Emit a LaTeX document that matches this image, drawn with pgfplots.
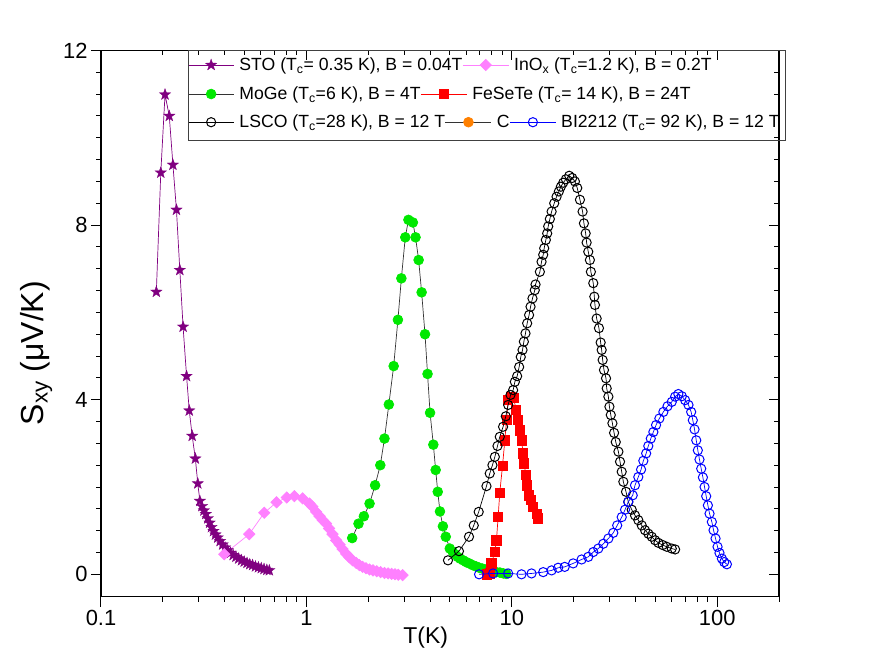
\documentclass[border=0pt]{standalone}
\usepackage{fontspec}
\setmainfont{Liberation Sans}
\usepackage{pgfplots}
\pgfplotsset{compat=1.18}

\definecolor{stoc}{RGB}{128,0,128}
\definecolor{inoxc}{RGB}{255,128,255}
\definecolor{mogec}{RGB}{0,232,0}
\definecolor{fesec}{RGB}{255,0,0}
\definecolor{cc}{RGB}{255,128,0}
\definecolor{bic}{RGB}{0,0,255}

\pgfdeclareplotmark{fstar}{%
  \pgfpathmoveto{\pgfpointpolar{90}{\pgfplotmarksize}}%
  \pgfpathlineto{\pgfpointpolar{126}{0.40\pgfplotmarksize}}%
  \pgfpathlineto{\pgfpointpolar{162}{\pgfplotmarksize}}%
  \pgfpathlineto{\pgfpointpolar{198}{0.40\pgfplotmarksize}}%
  \pgfpathlineto{\pgfpointpolar{234}{\pgfplotmarksize}}%
  \pgfpathlineto{\pgfpointpolar{270}{0.40\pgfplotmarksize}}%
  \pgfpathlineto{\pgfpointpolar{306}{\pgfplotmarksize}}%
  \pgfpathlineto{\pgfpointpolar{342}{0.40\pgfplotmarksize}}%
  \pgfpathlineto{\pgfpointpolar{18}{\pgfplotmarksize}}%
  \pgfpathlineto{\pgfpointpolar{54}{0.40\pgfplotmarksize}}%
  \pgfpathclose
  \pgfusepathqfillstroke
}

\begin{document}
\begin{tikzpicture}
\useasboundingbox (0,0) rectangle (872bp,654bp);

% axis 1: frame, ticks, STO, InOx
\begin{axis}[scale only axis, width=678bp, height=546.2bp,
  at={(101bp,57.3bp)}, anchor=south west,
  xmode=log, xmin=0.1, xmax=200, ymin=-0.513, ymax=12,
  major tick length=10bp, minor tick length=5bp,
  xtick={0.1,1,10,100},
  minor xtick={0.2,0.3,0.4,0.5,0.6,0.7,0.8,0.9,2,3,4,5,6,7,8,9,20,30,40,50,60,70,80,90,200},
  ytick={0,4,8,12}, minor y tick num=7,
  tick style={black, line width=1bp},
  axis line style={line width=1.2bp},
  tick align=outside, xtick pos=left, ytick pos=left,
  xticklabels={0.1,1,10,100}, yticklabels={0,4,8,12},
  /pgf/number format/assume math mode=true,
  tick label style={font=\fontsize{22}{26}\selectfont},
  xlabel={T(K)}, ylabel={S\textsubscript{xy} (μV/K)},
  xlabel style={at={(axis description cs:0.479,-0.0848)}, anchor=base, inner sep=0pt, font=\fontsize{23}{27}\selectfont},
  ylabel style={at={(axis description cs:-0.0841,0.446)}, anchor=base, inner sep=0pt, font=\fontsize{32}{36}\selectfont},
  legend columns=-1,
  legend style={draw=none, fill=none, inner sep=0pt, outer sep=0pt,
      at={(axis description cs:0.128,0.9734)}, anchor=west,
      font=\fontsize{17.7}{20}\selectfont,
      nodes={inner xsep=0pt, inner ysep=1pt},
      /tikz/every odd column/.append style={column sep=5bp}},
  legend image code/.code={%
      \draw[mark repeat=2,mark phase=2,#1] plot coordinates {(0bp,0bp) (23bp,0bp) (46bp,0bp)};},
]
\addplot[color=stoc, line width=0.7bp, mark=fstar, mark size=6bp, mark options={fill=stoc, draw=stoc, line width=0.3bp}]
coordinates {(0.186,6.47) (0.1955,9.20) (0.205,10.99) (0.215,10.50) (0.224,9.38) (0.233,8.35) (0.242,6.97) (0.251,5.67) (0.261,4.54) (0.269,3.75) (0.278,3.17) (0.288,2.65) (0.296,2.08) (0.303,1.68) (0.310,1.56) (0.317,1.46) (0.324,1.38) (0.331,1.28) (0.338,1.18) (0.345,1.08) (0.353,0.99) (0.361,0.91) (0.370,0.84) (0.380,0.76) (0.391,0.68) (0.402,0.61) (0.414,0.55) (0.427,0.49) (0.440,0.44) (0.454,0.40) (0.468,0.36) (0.483,0.32) (0.498,0.29) (0.514,0.26) (0.530,0.23) (0.547,0.21) (0.565,0.18) (0.584,0.16) (0.603,0.14) (0.622,0.12) (0.642,0.10) (0.66,0.09)};
\addlegendentry{STO (T\textsubscript{c}= 0.35 K), B = 0.04T}
\addplot[color=inoxc, line width=0.7bp, mark=square*, mark size=4bp, mark options={rotate=45, fill=inoxc, draw=inoxc}]
coordinates {(0.398,0.46) (0.527,0.92) (0.624,1.41) (0.716,1.65) (0.802,1.76) (0.874,1.79) (0.959,1.74) (1.035,1.62) (1.07,1.55) (1.115,1.43) (1.16,1.33) (1.20,1.24) (1.247,1.16) (1.29,1.05) (1.34,0.92) (1.396,0.78) (1.45,0.68) (1.50,0.58) (1.562,0.47) (1.62,0.39) (1.68,0.32) (1.75,0.26) (1.81,0.21) (1.88,0.17) (1.95,0.14) (2.03,0.11) (2.11,0.09) (2.20,0.07) (2.30,0.05) (2.40,0.03) (2.50,0.02) (2.60,0.01) (2.70,0.00) (2.80,-0.01) (2.94,-0.02)};
\addlegendentry{InO\textsubscript{x} (T\textsubscript{c}=1.2 K), B = 0.2T}
\end{axis}

% axis 2: MoGe, FeSeTe
\begin{axis}[scale only axis, width=678bp, height=546.2bp,
  at={(101bp,57.3bp)}, anchor=south west,
  xmode=log, xmin=0.1, xmax=200, ymin=-0.513, ymax=12, hide axis,
  legend columns=-1,
  legend style={draw=none, fill=none, inner sep=0pt, outer sep=0pt,
      at={(axis description cs:0.128,0.9203)}, anchor=west,
      font=\fontsize{17.7}{20}\selectfont,
      nodes={inner xsep=0pt, inner ysep=1pt},
      /tikz/every odd column/.append style={column sep=5bp}},
  legend image code/.code={%
      \draw[mark repeat=2,mark phase=2,#1] plot coordinates {(0bp,0bp) (23bp,0bp) (46bp,0bp)};},
]
\addplot[color=black!80, line width=0.7bp, mark=*, mark size=4.9bp, mark options={fill=mogec, draw=mogec}]
coordinates {(1.671,0.83) (1.794,1.16) (1.905,1.33) (2.03,1.62) (2.16,2.04) (2.29,2.50) (2.40,3.11) (2.52,3.89) (2.66,4.77) (2.79,5.83) (2.90,6.78) (3.03,7.72) (3.14,8.12) (3.30,8.06) (3.40,7.72) (3.52,7.20) (3.64,6.46) (3.78,5.50) (3.89,4.59) (4.00,3.70) (4.15,2.97) (4.26,2.39) (4.36,1.89) (4.47,1.44) (4.62,1.10) (4.77,0.86) (4.99,0.59) (5.15,0.52) (5.3,0.46) (5.45,0.40) (5.6,0.36) (5.8,0.32) (6.0,0.28) (6.2,0.25) (6.45,0.21) (6.7,0.18) (6.95,0.15) (7.2,0.13) (7.5,0.11) (7.8,0.09) (8.1,0.07) (8.4,0.05) (8.75,0.04) (9.1,0.02) (9.4,0.01)};
\addlegendentry{MoGe (T\textsubscript{c}=6 K), B = 4T}
\addplot[color=fesec, line width=0.7bp, mark=square*, mark size=4.6bp, mark options={fill=fesec, draw=fesec}]
coordinates {(7.53,0.00) (7.81,0.02) (7.96,0.25) (8.27,0.51) (8.42,0.78) (8.58,1.31) (8.74,1.87) (9.01,2.48) (9.25,3.07) (9.42,3.53) (9.60,3.99) (9.86,4.07) (10.23,4.05) (10.47,3.76) (10.66,3.53) (10.94,3.30) (11.15,3.07) (11.36,2.77) (11.48,2.54) (11.70,2.27) (11.88,2.04) (12.07,1.81) (12.34,1.70) (12.71,1.54) (13.20,1.39) (13.44,1.28)};
\addlegendentry{FeSeTe (T\textsubscript{c}= 14 K), B = 24T}
\end{axis}

% axis 3: LSCO, C, BI2212
\begin{axis}[scale only axis, width=678bp, height=546.2bp,
  at={(101bp,57.3bp)}, anchor=south west,
  xmode=log, xmin=0.1, xmax=200, ymin=-0.513, ymax=12, hide axis,
  legend columns=-1,
  legend style={draw=none, fill=none, inner sep=0pt, outer sep=0pt,
      at={(axis description cs:0.128,0.8687)}, anchor=west,
      font=\fontsize{17.7}{20}\selectfont,
      nodes={inner xsep=0pt, inner ysep=1pt},
      /tikz/every odd column/.append style={column sep=5bp}},
  legend image code/.code={%
      \draw[mark repeat=2,mark phase=2,#1] plot coordinates {(0bp,0bp) (23bp,0bp) (46bp,0bp)};},
]
\addplot[color=black, line width=0.7bp, mark=o, mark size=4.6bp, mark options={fill=white, draw=black, line width=1bp}]
coordinates {(4.89,0.32) (5.53,0.53) (6.19,0.86) (6.53,1.12) (6.90,1.43) (7.53,2.02) (7.81,2.31) (8.05,2.50) (8.27,2.69) (8.52,2.94) (8.74,3.15) (9.07,3.38) (9.35,3.62) (9.60,3.88) (9.86,4.11) (10.15,4.22) (10.35,4.41) (10.62,4.54) (10.86,4.75) (11.06,4.98) (11.28,5.14) (11.45,5.33) (11.66,5.52) (11.88,5.75) (12.14,5.94) (12.34,6.13) (12.61,6.32) (12.94,6.51) (13.05,6.64) (13.70,6.93) (13.96,7.16) (14.22,7.32) (14.38,7.47) (14.65,7.66) (14.87,7.81) (15.04,7.97) (15.32,8.14) (15.63,8.31) (16.09,8.50) (16.52,8.65) (16.95,8.77) (17.34,8.88) (17.80,8.97) (18.34,9.05) (19.04,9.13) (19.69,9.08) (20.29,9.00) (20.83,8.85) (21.47,8.58) (22.12,8.31) (22.45,8.04) (22.89,7.81) (23.14,7.60) (23.57,7.39) (24.0,7.20) (24.27,6.93) (24.93,6.67) (25.22,6.36) (25.41,6.17) (25.89,5.86) (26.57,5.64) (27.08,5.31) (27.39,5.14) (27.70,4.91) (28.11,4.68) (28.76,4.49) (28.98,4.26) (29.53,4.07) (29.88,3.84) (30.34,3.65) (30.90,3.46) (31.48,3.24) (32.08,3.03) (33.04,2.81) (33.65,2.58) (34.29,2.35) (34.93,2.12) (35.99,1.89) (36.92,1.66) (38.37,1.48) (39.81,1.35) (41.32,1.24) (42.93,1.12) (44.54,1.01) (46.24,0.93) (48.01,0.86) (49.86,0.78) (51.76,0.72) (54.33,0.67) (56.85,0.63) (60.1,0.59) (62.4,0.57)};
\addlegendentry{LSCO (T\textsubscript{c}=28 K), B = 12 T}
\addlegendimage{color=black!80, line width=0.7bp, mark=*, mark size=4.9bp, mark options={fill=cc, draw=cc}}
\addlegendentry{C}
\addplot[color=bic, line width=0.7bp, mark=o, mark size=4.6bp, mark options={fill=white, draw=bic, line width=1bp}]
coordinates {(6.93,0.00) (8.11,0.02) (9.60,0.02) (11.15,0.00) (12.48,0.02) (14.22,0.05) (15.63,0.09) (16.82,0.15) (18.1,0.17) (19.9,0.25) (21.88,0.34) (23.57,0.40) (24.93,0.51) (26.38,0.59) (27.9,0.70) (29.53,0.82) (31.2,0.95) (32.6,1.12) (34.3,1.31) (35.6,1.48) (36.9,1.66) (38.8,1.81) (39.8,2.04) (41.3,2.23) (42.6,2.40) (43.7,2.60) (45.1,2.77) (46.2,2.94) (47.5,3.11) (48.9,3.26) (50.4,3.42) (52.3,3.57) (54.7,3.72) (57.3,3.85) (60.1,3.95) (62.4,4.07) (64.7,4.13) (67.3,4.08) (69.8,3.99) (72.5,3.88) (74.7,3.72) (76.1,3.53) (77.6,3.32) (79.1,3.07) (80.5,2.84) (82.0,2.63) (83.6,2.42) (85.2,2.22) (86.8,2.00) (88.4,1.79) (90.1,1.58) (91.8,1.39) (94.2,1.20) (96.0,1.01) (98.2,0.82) (100.4,0.63) (102.6,0.49) (105.4,0.36) (108.2,0.28) (111.5,0.23)};
\addlegendentry{BI2212 (T\textsubscript{c}= 92 K), B = 12 T}
\end{axis}

% axis 4: inward ticks on top and right
\begin{axis}[scale only axis, width=678bp, height=546.2bp,
  at={(101bp,57.3bp)}, anchor=south west,
  xmode=log, xmin=0.1, xmax=200, ymin=-0.513, ymax=12,
  major tick length=10bp, minor tick length=5bp,
  xtick={0.1,1,10,100},
  minor xtick={0.2,0.3,0.4,0.5,0.6,0.7,0.8,0.9,2,3,4,5,6,7,8,9,20,30,40,50,60,70,80,90,200},
  ytick={0,4,8,12}, minor y tick num=7,
  tick style={black, line width=1bp},
  axis line style={line width=1.2bp},
  tick align=inside, xtick pos=right, ytick pos=right,
  xticklabels={}, yticklabels={}]
\end{axis}

\draw[line width=0.9bp, black!75] (188bp,514bp) rectangle (785bp,603.5bp);
\end{tikzpicture}
\end{document}
